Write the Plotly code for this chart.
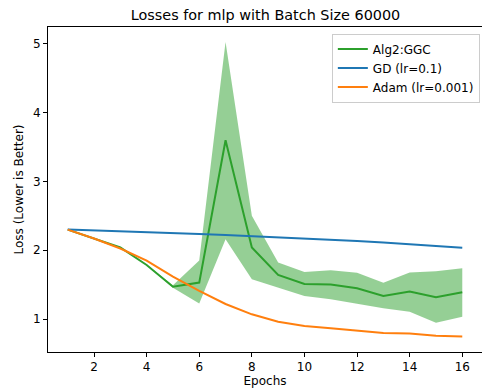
import plotly.graph_objects as go

epochs = list(range(1, 17))
ggc_mean = [2.30, 2.17, 2.04, 1.785, 1.47, 1.53, 3.60, 2.04, 1.64, 1.51, 1.50, 1.446, 1.335, 1.398, 1.315, 1.388]
ggc_upper = [2.30, 2.17, 2.04, 1.79, 1.49, 1.85, 5.03, 2.50, 1.82, 1.684, 1.71, 1.674, 1.528, 1.676, 1.693, 1.737]
ggc_lower = [2.30, 2.17, 2.04, 1.78, 1.455, 1.225, 2.16, 1.577, 1.46, 1.335, 1.286, 1.218, 1.155, 1.107, 0.947, 1.034]
gd = [2.300, 2.289, 2.277, 2.265, 2.252, 2.238, 2.223, 2.207, 2.190, 2.172, 2.153, 2.133, 2.112, 2.090, 2.066, 2.035]
adam = [2.30, 2.17, 2.025, 1.85, 1.616, 1.41, 1.218, 1.068, 0.961, 0.898, 0.864, 0.83, 0.795, 0.79, 0.757, 0.745]

x_ticks = [2, 4, 6, 8, 10, 12, 14, 16]
y_ticks = [1, 2, 3, 4, 5]

FONT = "DejaVu Sans"
fig = go.Figure()
fig.add_trace(go.Scatter(x=epochs, y=ggc_upper, mode="lines", line=dict(width=0),
                         showlegend=False, hoverinfo="skip"))
fig.add_trace(go.Scatter(x=epochs, y=ggc_lower, mode="lines", line=dict(width=0),
                         fill="tonexty", fillcolor="rgba(44,160,44,0.5)",
                         showlegend=False, hoverinfo="skip"))
fig.add_trace(go.Scatter(x=epochs, y=ggc_mean, mode="lines", name="Alg2:GGC",
                         line=dict(color="#2ca02c", width=2)))
fig.add_trace(go.Scatter(x=epochs, y=gd, mode="lines", name="GD (lr=0.1)",
                         line=dict(color="#1f77b4", width=2)))
fig.add_trace(go.Scatter(x=epochs, y=adam, mode="lines", name="Adam (lr=0.001)",
                         line=dict(color="#ff7f0e", width=2)))

fig.update_layout(
    width=482, height=392,
    margin=dict(l=48, r=0, t=27, b=40),
    paper_bgcolor="white", plot_bgcolor="white",
    font=dict(family=FONT, size=12, color="black"),
    title=dict(text="Losses for mlp with Batch Size 60000", x=265.5/482, xanchor="center",
               y=1 - 15/392, yanchor="middle", yref="container",
               font=dict(size=14.4, family=FONT, color="black")),
    legend=dict(x=0.654, y=0.98, xanchor="left", yanchor="top", traceorder="normal",
                bgcolor="rgba(255,255,255,0.8)", bordercolor="#cccccc", borderwidth=1,
                font=dict(size=12, family=FONT), tracegroupgap=0, itemwidth=30),
    showlegend=True,
)
fig.update_xaxes(range=[0.25, 16.75], tickvals=x_ticks, ticks="outside", ticklen=4,
                 tickcolor="black", showgrid=False, zeroline=False, showline=True,
                 linecolor="black", linewidth=1, mirror=True,
                 title=dict(text="Epochs", standoff=2, font=dict(size=12)))
fig.update_yaxes(range=[0.52, 5.247], tickvals=y_ticks, ticks="outside", ticklen=4,
                 tickcolor="black", showgrid=False, zeroline=False, showline=True,
                 linecolor="black", linewidth=1,
                 title=dict(text="Loss (Lower is Better)", standoff=6, font=dict(size=12)))
fig.write_html("out.html")
